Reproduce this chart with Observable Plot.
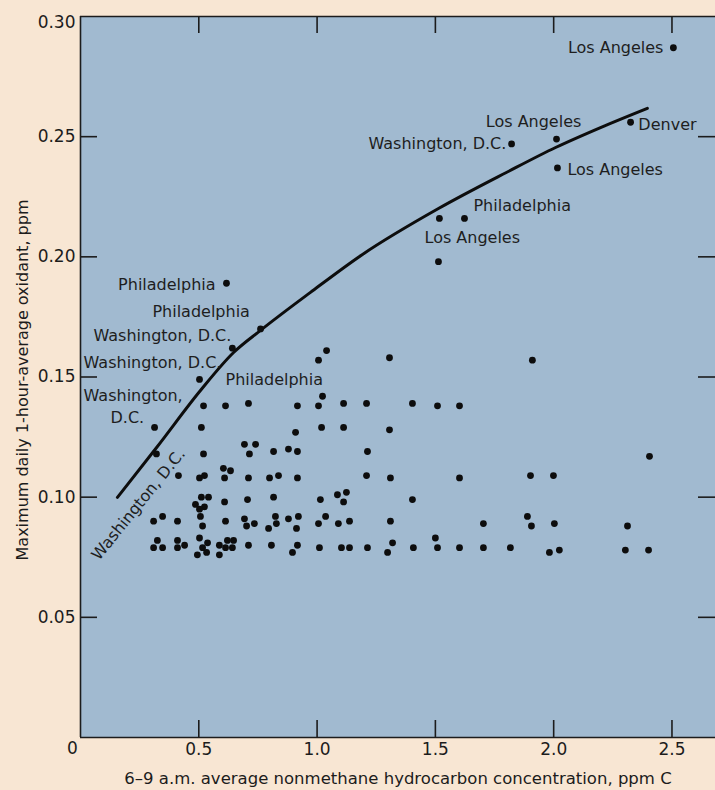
<!DOCTYPE html>
<html><head><meta charset="utf-8">
<script src="https://cdn.jsdelivr.net/npm/d3@7"></script>
<script src="https://cdn.jsdelivr.net/npm/@observablehq/plot@0.6"></script>
<style>
html,body{margin:0;padding:0;background:#f8e6d3;}
</style></head><body><div id="chart"></div>
<script>
// 6–9 a.m. nonmethane hydrocarbon (ppm C) vs max daily 1-hour oxidant (ppm)
const hcX = [
  2.506,2.325,2.012,1.822,2.016,1.623,1.517,1.513,0.617,0.761,0.642,0.503,0.313,0.321,
  1.006,1.040,1.306,1.910,
  0.520,0.613,0.710,0.917,1.006,1.023,1.112,1.209,1.403,1.509,1.602,
  0.511,0.909,1.019,1.112,1.306,
  0.520,0.693,0.740,0.714,0.816,0.879,0.917,1.213,2.405,
  0.414,0.503,0.524,0.604,0.634,0.609,0.710,0.799,0.837,0.917,1.209,1.310,1.602,1.902,1.999,
  0.486,0.511,0.541,0.524,0.503,0.609,0.706,0.816,1.014,1.086,1.124,1.112,1.403,
  0.309,0.347,0.410,0.507,0.516,0.613,0.693,0.702,0.735,0.824,0.828,0.795,0.879,0.921,0.913,1.006,1.036,1.090,1.137,1.310,1.703,1.889,1.906,2.003,2.312,
  0.325,0.309,0.347,0.410,0.410,0.440,0.503,0.537,0.494,0.533,0.516,0.587,0.621,0.647,0.613,0.642,0.587,0.710,0.807,0.917,0.896,1.010,1.103,1.137,1.213,1.298,1.319,1.407,1.500,1.509,1.602,1.703,1.817,1.982,2.024,2.303,2.401
];
const oxY = [
  0.287,0.256,0.249,0.247,0.237,0.216,0.216,0.198,0.189,0.170,0.162,0.149,0.129,0.118,
  0.157,0.161,0.158,0.157,
  0.138,0.138,0.139,0.138,0.138,0.142,0.139,0.139,0.139,0.138,0.138,
  0.129,0.127,0.129,0.129,0.128,
  0.118,0.122,0.122,0.118,0.119,0.120,0.119,0.119,0.117,
  0.109,0.108,0.109,0.112,0.111,0.108,0.108,0.108,0.109,0.108,0.109,0.108,0.108,0.109,0.109,
  0.097,0.100,0.100,0.096,0.095,0.098,0.099,0.100,0.099,0.101,0.102,0.098,0.099,
  0.090,0.092,0.090,0.092,0.088,0.090,0.091,0.088,0.089,0.092,0.089,0.087,0.091,0.092,0.087,0.089,0.092,0.089,0.090,0.090,0.089,0.092,0.088,0.089,0.088,
  0.082,0.079,0.079,0.082,0.079,0.080,0.083,0.081,0.076,0.077,0.079,0.080,0.082,0.082,0.079,0.079,0.076,0.080,0.080,0.080,0.077,0.079,0.079,0.079,0.079,0.077,0.081,0.079,0.083,0.079,0.079,0.079,0.079,0.077,0.078,0.078,0.078
];
// upper-envelope curve
const curveX = [0.156,0.325,0.507,0.647,0.761,0.972,1.192,1.513,1.800,2.008,2.198,2.396];
const curveY = [0.0999,0.1211,0.1444,0.1602,0.1694,0.1852,0.2010,0.2201,0.2351,0.2455,0.2538,0.2618];

// city annotations (in data units)
const labelText = ["Los Angeles","Los Angeles","Washington, D.C.","Denver","Los Angeles","Philadelphia","Los Angeles",
  "Philadelphia","Philadelphia","Washington, D.C.","Washington, D.C.","Philadelphia","Washington,","D.C."];
const labelX = [2.464,1.915,1.800,2.358,2.058,1.661,1.454,0.571,0.304,0.055,0.013,0.613,0.013,0.127];
const labelY = [0.287,0.256,0.247,0.255,0.236,0.221,0.208,0.1885,0.177,0.167,0.156,0.149,0.142,0.133];
const labelAnchor = ["end","middle","end","start","start","start","start","end","start","start","start","start","start","start"];
const slantText = ["Washington, D.C."];
const slantX = [0.245];
const slantY = [0.097];

const xTicks = [0.5,1.0,1.5,2.0,2.5];
const yTicks = [0.05,0.10,0.15,0.20,0.25,0.30];
const xTitle = "6–9 a.m. average nonmethane hydrocarbon concentration, ppm C";
const yTitle = "Maximum daily 1-hour-average oxidant, ppm";

const points = hcX.map((x,i)=>({x, y: oxY[i]}));
const curve = curveX.map((x,i)=>({x, y: curveY[i]}));
const labels = labelText.map((t,i)=>({t, x: labelX[i], y: labelY[i], a: labelAnchor[i]}));
const slant = slantText.map((t,i)=>({t, x: slantX[i], y: slantY[i]}));

const W = 715, H = 790, mL = 80, mR = 0, mT = 16, mB = 53;
const innerW = W - mL - mR, innerH = H - mT - mB, tick = 17;
const ink = "#1c1c1c";
const font = "DejaVu Sans";
const yMax = yTicks[yTicks.length - 1];
const fmtY = d3.format(".2f");

const labelMarks = ["start","middle","end"].map(a =>
  Plot.text(labels.filter(d=>d.a===a), {x:"x", y:"y", text:"t", textAnchor:a, fontSize:16, fill:"#1e1e1e"}));

const chart = Plot.plot({
  width: W, height: H,
  marginLeft: mL, marginRight: mR, marginTop: mT, marginBottom: mB,
  style: {background: "#f8e6d3", fontFamily: font, color: ink},
  x: {domain: [0, 2.684]},
  y: {domain: [0, yMax]},
  marks: [
    Plot.frame({fill: "#a1bad0", stroke: null}),
    Plot.ruleX(xTicks, {x: d=>d, insetTop: innerH - tick, stroke: ink, strokeWidth: 1.6}),
    Plot.ruleX(xTicks, {x: d=>d, insetBottom: innerH - tick, stroke: ink, strokeWidth: 1.6}),
    Plot.ruleY(yTicks.filter(d=>d<yMax), {y: d=>d, insetRight: innerW - tick, stroke: ink, strokeWidth: 1.6}),
    Plot.ruleY(yTicks.filter(d=>d<yMax), {y: d=>d, insetLeft: innerW - tick, stroke: ink, strokeWidth: 1.6}),
    Plot.ruleX([0], {stroke: ink, strokeWidth: 1.6}),
    Plot.ruleY([0, yMax], {stroke: ink, strokeWidth: 1.6}),
    Plot.line(curve, {x:"x", y:"y", curve:"monotone-x", stroke:"#0d0d0d", strokeWidth:3}),
    Plot.dot(points, {x:"x", y:"y", r:3.4, fill:"#0d0d0d", stroke:null}),
    ...labelMarks,
    Plot.text(slant, {x:"x", y:"y", text:"t", rotate:-51, fontSize:16, fill:"#1e1e1e"}),
    Plot.axisX({ticks: xTicks, tickSize: 0, tickPadding: 5, tickFormat: d3.format(".1f"), fontSize: 17, label: null, fill: ink}),
    Plot.text(["0"], {x: 0, y: 0, dx: -8, dy: 11, fontSize: 17, fill: ink}),
    Plot.axisY({ticks: yTicks.filter(d=>d<yMax), tickSize: 0, tickPadding: 5, tickFormat: fmtY, fontSize: 17, label: null, fill: ink}),
    Plot.text([yMax], {x: 0, y: d=>d, text: d=>fmtY(d), textAnchor: "end", dx: -5, dy: 6, fontSize: 17, fill: ink}),
    Plot.text([xTitle], {frameAnchor: "bottom", textAnchor: "middle", lineAnchor: "middle", dy: 41, fontSize: 16.5, fill: ink}),
    Plot.text([yTitle], {frameAnchor: "left", textAnchor: "middle", lineAnchor: "middle", rotate: -90, dx: -58, dy: 3, fontSize: 16, fill: ink})
  ]
});
document.getElementById("chart").appendChild(chart);
</script>
</body></html>
